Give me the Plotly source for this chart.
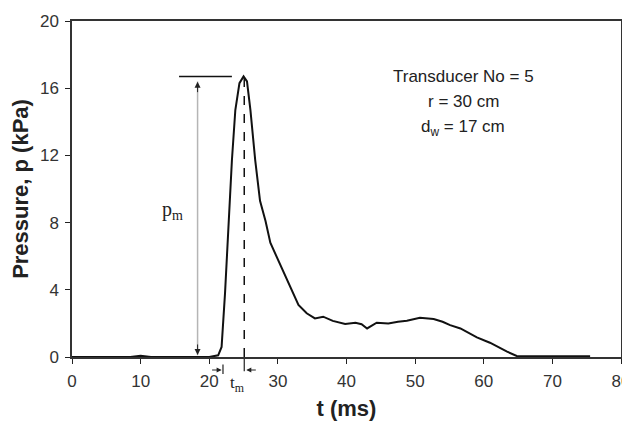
import plotly.graph_objects as go

# data
time_ms = [0, 5, 8.5, 10, 11.5, 15, 20, 21.3, 21.8, 22.3, 22.8, 23.3, 23.8, 24.4, 25.0,
           25.5, 26.0, 26.7, 27.4, 28.2, 28.9, 30.0, 30.8, 32.0, 33.0, 34.2, 35.4, 36.6,
           38.0, 39.8, 41.3, 42.2, 43.0, 44.4, 46.1, 47.5, 48.8, 50.7, 52.7, 54.0, 55.1,
           56.6, 58.0, 59.0, 60.9, 62.0, 63.4, 64.8, 70.0, 75.5]
pressure_kpa = [0, 0, 0, 0.08, 0, 0, 0, 0.1, 0.6, 3.8, 8.15, 11.7, 14.7, 16.3, 16.7,
                16.4, 14.7, 11.7, 9.3, 8.1, 6.8, 5.8, 5.0, 4.0, 3.1, 2.6, 2.3, 2.4,
                2.15, 1.96, 2.04, 1.95, 1.7, 2.04, 2.0, 2.1, 2.16, 2.34, 2.26, 2.1, 1.9,
                1.7, 1.4, 1.17, 0.85, 0.6, 0.32, 0.06, 0.05, 0.05]

x_ticks = [0, 10, 20, 30, 40, 50, 60, 70, 80]
y_ticks = [0, 4, 8, 12, 16, 20]

peak_t = 25.1
peak_p = 16.7
rise_t = 22.0
pm_t = 18.3
info_lines = ["Transducer No = 5", "r = 30 cm", "d<sub>w</sub> = 17 cm"]
info_y = [16.67, 15.18, 13.63]

fig = go.Figure()
fig.add_trace(go.Scatter(x=time_ms, y=pressure_kpa, mode="lines",
                         line=dict(color="#111111", width=2), showlegend=False,
                         hoverinfo="skip"))

shapes = [
    dict(type="line", xref="x", yref="y", x0=peak_t, x1=peak_t, y0=0, y1=peak_p,
         line=dict(color="#111111", width=1.5, dash="dash")),
    dict(type="line", xref="x", yref="y", x0=15.6, x1=23.3, y0=peak_p, y1=peak_p,
         line=dict(color="#111111", width=1.5)),
    dict(type="line", xref="x", yref="y", x0=pm_t, x1=pm_t, y0=0.1, y1=16.4,
         line=dict(color="#b5b5b5", width=1.5)),
]

ann_font = dict(family="Liberation Sans, Arial, sans-serif", size=17, color="#222222")
annotations = []
for txt, yy in zip(info_lines, info_y):
    annotations.append(dict(x=57.0, y=yy, xref="x", yref="y", text=txt, showarrow=False,
                            font=ann_font, xanchor="center", yanchor="middle"))

annotations.append(dict(x=pm_t, y=16.39, xref="x", yref="y", ax=0, ay=12, text="",
                        showarrow=True, arrowhead=2, arrowsize=1.2, arrowwidth=1,
                        arrowcolor="#222222"))
annotations.append(dict(x=pm_t, y=0.12, xref="x", yref="y", ax=0, ay=-12, text="",
                        showarrow=True, arrowhead=2, arrowsize=1.2, arrowwidth=1,
                        arrowcolor="#222222"))
annotations.append(dict(x=14.6, y=8.7, xref="x", yref="y", text="p<sub>m</sub>",
                        showarrow=False,
                        font=dict(family="Liberation Serif, Times New Roman, serif",
                                  size=20, color="#222222")))

annotations.append(dict(x=rise_t - 0.2, y=-0.0387, xref="x", yref="paper", ax=-11, ay=0,
                        text="", showarrow=True, arrowhead=2, arrowsize=1, arrowwidth=1,
                        arrowcolor="#222222"))
annotations.append(dict(x=rise_t, y=-0.022, xref="x", yref="paper", ax=0, ay=11,
                        text="", showarrow=True, arrowhead=0, arrowwidth=1.2,
                        arrowcolor="#222222"))
annotations.append(dict(x=peak_t, y=-0.005, xref="x", yref="paper", ax=0, ay=14,
                        text="", showarrow=True, arrowhead=0, arrowwidth=1.2,
                        arrowcolor="#222222"))
annotations.append(dict(x=peak_t + 0.3, y=-0.0387, xref="x", yref="paper", ax=11, ay=0,
                        text="", showarrow=True, arrowhead=2, arrowsize=1, arrowwidth=1,
                        arrowcolor="#222222"))
annotations.append(dict(x=24.1, y=-0.08, xref="x", yref="paper", text="t<sub>m</sub>",
                        showarrow=False, yanchor="middle",
                        font=dict(family="Liberation Serif, Times New Roman, serif",
                                  size=17, color="#222222")))

tick_font = dict(family="Liberation Sans, Arial, sans-serif", size=17, color="#333333")
title_font = dict(family="Liberation Sans, Arial, sans-serif", size=22, color="#222222")

fig.update_layout(
    template="none",
    width=622, height=415,
    margin=dict(l=64, r=9, t=13, b=66),
    paper_bgcolor="white", plot_bgcolor="white",
    shapes=shapes, annotations=annotations,
    xaxis=dict(range=[0, 80], tickvals=x_ticks, ticks="outside", ticklen=5,
               tickwidth=1.2, tickcolor="#222222", showgrid=False, zeroline=False,
               showline=True, linecolor="#333333", linewidth=1.5, mirror=True,
               tickfont=tick_font, automargin=False, ticklabelstandoff=3,
               ticklabeloverflow="allow",
               title=dict(text="<b>t (ms)</b>", font=title_font, standoff=10)),
    yaxis=dict(range=[0, 20], tickvals=y_ticks, ticks="outside", ticklen=5,
               tickwidth=1.2, tickcolor="#222222", showgrid=False, zeroline=False,
               showline=True, linecolor="#333333", linewidth=1.5, mirror=True,
               tickfont=tick_font, automargin=False, ticklabelstandoff=3,
               ticklabeloverflow="allow",
               title=dict(text="<b>Pressure, p (kPa)</b>", font=title_font, standoff=5)),
)

fig.write_html("out.html")
